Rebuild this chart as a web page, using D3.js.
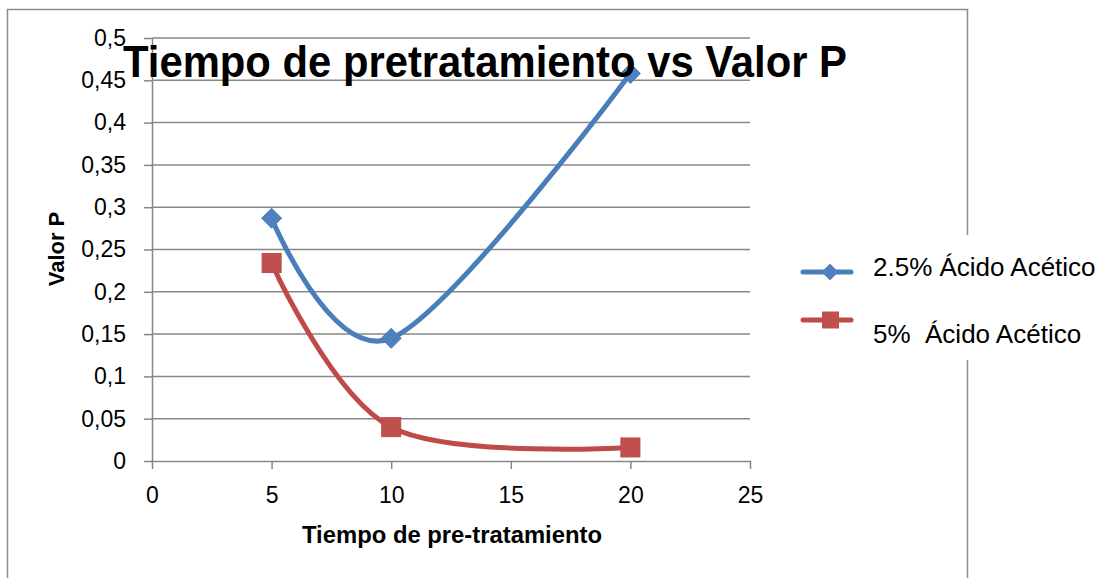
<!DOCTYPE html>
<html>
<head>
<meta charset="utf-8">
<script src="https://cdn.jsdelivr.net/npm/d3@7"></script>
<style>
  html, body { margin: 0; padding: 0; background: #fff; }
  svg { display: block; font-family: "Liberation Sans", Arial, sans-serif; }
</style>
</head>
<body>
<svg id="chart" width="1105" height="578"></svg>
<script>
// ---- data ----
const tiempos = [5, 10, 20];
const acido25 = [0.287, 0.145, 0.458];
const acido5 = [0.234, 0.040, 0.016];
const seriesNames = ["2.5% Ácido Acético", "5%  Ácido Acético"];
const xTicks = [0, 5, 10, 15, 20, 25];
const yTicks = [0, 0.05, 0.1, 0.15, 0.2, 0.25, 0.3, 0.35, 0.4, 0.45, 0.5];
const yTickLabels = ["0", "0,05", "0,1", "0,15", "0,2", "0,25", "0,3", "0,35", "0,4", "0,45", "0,5"];
const chartTitle = "Tiempo de pretratamiento vs Valor P";
const xTitle = "Tiempo de pre-tratamiento";
const yTitle = "Valor P";

// ---- layout ----
const svg = d3.select("#chart");
const grid = "#878787";
const blueLine = "#4A7EBB", blueFill = "#4F81BD";
const redLine = "#BE4B48", redFill = "#C0504D";

const x = d3.scaleLinear().domain([0, 25]).range([152, 750]);
const y = d3.scaleLinear().domain([0, 0.5]).range([461, 38]);

// outer chart frame
svg.append("rect")
  .attr("x", 7.5).attr("y", 9.5).attr("width", 960).attr("height", 600)
  .attr("fill", "#fff").attr("stroke", "#8c8c8c").attr("stroke-width", 1.5);

// gridlines
svg.append("g").selectAll("line")
  .data(yTicks.filter(d => d > 0))
  .join("line")
  .attr("x1", x(0)).attr("x2", x(25))
  .attr("y1", d => y(d)).attr("y2", d => y(d))
  .attr("stroke", grid).attr("stroke-width", 1.5);

// axes
const yAxis = d3.axisLeft(y).tickValues(yTicks)
  .tickFormat((d, i) => yTickLabels[i]).tickSize(8).tickSizeOuter(0).tickPadding(18);
const xAxis = d3.axisBottom(x).tickValues(xTicks)
  .tickSize(8).tickSizeOuter(0).tickPadding(18);

const gy = svg.append("g").attr("transform", `translate(${x(0)},0)`).call(yAxis);
const gx = svg.append("g").attr("transform", `translate(0,${y(0)})`).call(xAxis);
[gx, gy].forEach(g => {
  g.select(".domain").attr("stroke", grid).attr("stroke-width", 1.5);
  g.selectAll(".tick line").attr("stroke", grid).attr("stroke-width", 1.5);
  g.selectAll(".tick text").attr("fill", "#000")
    .style("font-family", "'Liberation Sans', Arial, sans-serif")
    .style("font-size", "23px");
});

// series
const line = d3.line().curve(d3.curveCardinal.tension(0))
  .x(d => x(d[0])).y(d => y(d[1]));
const s1 = tiempos.map((t, i) => [t, acido25[i]]);
const s2 = tiempos.map((t, i) => [t, acido5[i]]);

svg.append("path").datum(s1).attr("d", line)
  .attr("fill", "none").attr("stroke", blueLine).attr("stroke-width", 5)
  .attr("stroke-linecap", "round");
svg.append("path").datum(s2).attr("d", line)
  .attr("fill", "none").attr("stroke", redLine).attr("stroke-width", 5)
  .attr("stroke-linecap", "round");

const diamond = (cx, cy, r) => `M${cx},${cy - r}L${cx + r},${cy}L${cx},${cy + r}L${cx - r},${cy}Z`;
svg.append("g").selectAll("path").data(s1).join("path")
  .attr("d", d => diamond(x(d[0]), y(d[1]), 10))
  .attr("fill", blueFill).attr("stroke", blueLine).attr("stroke-width", 1);
svg.append("g").selectAll("rect").data(s2).join("rect")
  .attr("x", d => x(d[0]) - 9.5).attr("y", d => y(d[1]) - 9.5)
  .attr("width", 19).attr("height", 19)
  .attr("fill", redFill).attr("stroke", redLine).attr("stroke-width", 1);

// title (drawn over plot)
svg.append("text")
  .attr("x", 123).attr("y", 77)
  .attr("textLength", 724).attr("lengthAdjust", "spacingAndGlyphs")
  .style("font-size", "44px").style("font-weight", "bold")
  .attr("fill", "#000").text(chartTitle);

// axis titles
svg.append("text")
  .attr("x", 452).attr("y", 543).attr("text-anchor", "middle")
  .attr("textLength", 300).attr("lengthAdjust", "spacingAndGlyphs")
  .style("font-size", "23px").style("font-weight", "bold")
  .attr("fill", "#000").text(xTitle);
svg.append("text")
  .attr("transform", "translate(64,249) rotate(-90)")
  .attr("text-anchor", "middle")
  .style("font-size", "22px").style("font-weight", "bold")
  .attr("fill", "#000").text(yTitle);

// legend
const lg = svg.append("g");
lg.append("rect").attr("x", 790).attr("y", 235).attr("width", 315).attr("height", 125).attr("fill", "#fff");
const legendItems = [
  { name: seriesNames[0], line: blueLine, fill: blueFill, shape: "diamond", ly: 272, ty: 276 },
  { name: seriesNames[1], line: redLine, fill: redFill, shape: "square", ly: 320, ty: 343 }
];
legendItems.forEach(it => {
  lg.append("line").attr("x1", 803).attr("x2", 851).attr("y1", it.ly).attr("y2", it.ly)
    .attr("stroke", it.line).attr("stroke-width", 5).attr("stroke-linecap", "round");
  if (it.shape === "diamond") {
    lg.append("path").attr("d", diamond(830, it.ly, 8.5)).attr("fill", it.fill);
  } else {
    lg.append("rect").attr("x", 822).attr("y", it.ly - 8.5).attr("width", 17).attr("height", 17).attr("fill", it.fill);
  }
  lg.append("text").attr("x", 873).attr("y", it.ty)
    .style("font-size", "26px").style("white-space", "pre")
    .attr("fill", "#000").text(it.name);
});
</script>
</body>
</html>
